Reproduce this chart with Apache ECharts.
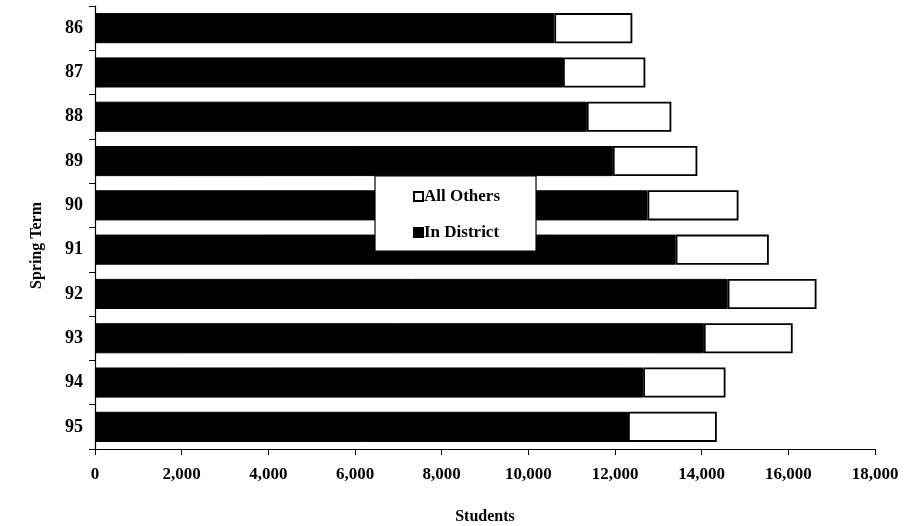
<!DOCTYPE html>
<html>
<head>
<meta charset="utf-8">
<script src="https://cdn.jsdelivr.net/npm/echarts@6/dist/echarts.min.js"></script>
<style>html,body{margin:0;padding:0;background:#fff;}#c{width:912px;height:526px;}</style>
</head>
<body>
<div id="c"></div>
<script>
const categories = ['86','87','88','89','90','91','92','93','94','95'];
const inDistrict = [10600, 10800, 11350, 11950, 12750, 13400, 14600, 14050, 12650, 12300];
const allOthers = [1800, 1900, 1950, 1950, 2100, 2150, 2050, 2050, 1900, 2050];
const xTicksMin = 0, xTicksMax = 18000, xTickStep = 2000;

const FONT = "'Liberation Serif', 'Times New Roman', serif";
const chart = echarts.init(document.getElementById('c'), null, {renderer: 'canvas'});
const axisLine = {show: true, lineStyle: {color: '#000', width: 1.2}};
chart.setOption({
  animation: false,
  backgroundColor: '#fff',
  grid: {left: 95, right: 37, top: 6, bottom: 77, containLabel: false, outerBoundsMode: 'none'},
  xAxis: {
    type: 'value', min: xTicksMin, max: xTicksMax, interval: xTickStep,
    axisLine: axisLine,
    axisTick: {show: true, length: 6, lineStyle: {color: '#000'}},
    splitLine: {show: false},
    axisLabel: {color: '#000', fontFamily: FONT, fontWeight: 'bold', fontSize: 17, margin: 17,
      formatter: v => v.toLocaleString('en-US')},
    name: 'Students', nameLocation: 'middle', nameGap: 60,
    nameTextStyle: {color: '#000', fontFamily: FONT, fontWeight: 'bold', fontSize: 16}
  },
  yAxis: {
    type: 'category', data: categories, inverse: true,
    axisLine: axisLine,
    axisTick: {show: true, length: 6, lineStyle: {color: '#000'}},
    axisLabel: {color: '#000', fontFamily: FONT, fontWeight: 'bold', fontSize: 18, margin: 12},
    name: 'Spring Term', nameLocation: 'middle', nameGap: 50, nameRotate: 90,
    nameTextStyle: {color: '#000', fontFamily: FONT, fontWeight: 'bold', fontSize: 16, padding: [0, 36, 0, 0]}
  },
  legend: {
    orient: 'vertical', left: 375, top: 176,
    data: ['All Others', 'In District'],
    backgroundColor: '#fff', borderColor: '#000', borderWidth: 1.2,
    padding: [12, 36, 10, 38], itemGap: 19, itemWidth: 9, itemHeight: 9,
    icon: 'rect',
    textStyle: {color: '#000', fontFamily: FONT, fontWeight: 'bold', fontSize: 17, padding: [0, 0, 0, -4]}
  },
  series: [{
    name: 'In District', type: 'bar', stack: 'total', data: inDistrict,
    barWidth: '68%',
    itemStyle: {color: '#000', borderColor: '#000', borderWidth: 1}
  }, {
    name: 'All Others', type: 'bar', stack: 'total', data: allOthers,
    barWidth: '68%',
    itemStyle: {color: '#fff', borderColor: '#000', borderWidth: 1.8}
  }]
});
</script>
</body>
</html>
